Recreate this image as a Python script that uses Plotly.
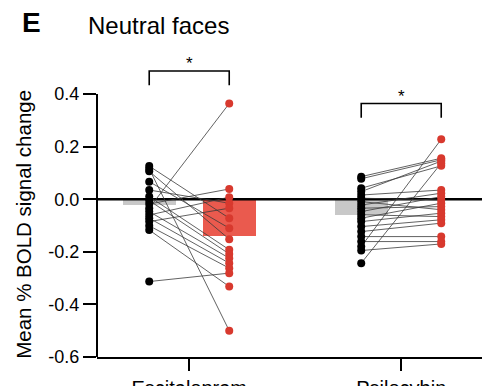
import plotly.graph_objects as go

# Treatment groups (category axis)
groups = ["Escitalopram", "Psilocybin"]

# Per-subject mean % BOLD signal change to neutral faces, baseline vs post-treatment
escit_pre = [0.126, 0.116, 0.106, 0.067, 0.035, 0.010, -0.005, -0.018,
             -0.034, -0.047, -0.060, -0.072, -0.085, -0.101, -0.117, -0.313]
escit_post = [-0.072, -0.500, -0.152, -0.110, -0.015, -0.192, -0.208, 0.039,
              0.364, -0.224, 0.008, -0.243, -0.034, -0.262, -0.332, -0.281]

psilo_pre = [0.086, 0.078, 0.042, 0.029, 0.016, 0.004, -0.009, -0.022, -0.034, -0.047,
             -0.059, -0.072, -0.085, -0.104, -0.123, -0.142, -0.161, -0.180, -0.195, -0.243]
psilo_post = [0.156, 0.150, 0.127, 0.145, 0.035, -0.003, -0.040, 0.023, -0.028, 0.010,
              -0.066, -0.015, -0.053, -0.078, -0.091, -0.142, -0.161, 0.228, -0.170, 0.137]

# Group means (baseline, post) shown as bars
mean_pre = [-0.022, -0.060]
mean_post = [-0.139, 0.005]

# Significance markers per group
sig_labels = ["*", "*"]
sig_bracket_top = [0.488, 0.364]

OFF = 0.1887      # horizontal offset of baseline/post columns from group centre
BAR_W = 0.25
GRAY = "#c8c8c8"
RED_BAR = "#ea5a4e"
RED_DOT = "#d8392e"
FONT = "Liberation Sans, Arial, sans-serif"

XMIN, XMAX = -0.435, 1.381
YMIN, YMAX = -0.6, 0.56

centres = list(range(len(groups)))
pre_sets = [escit_pre, psilo_pre]
post_sets = [escit_post, psilo_post]

fig = go.Figure()

# Mean bars
fig.add_trace(go.Bar(x=[c - OFF for c in centres], y=mean_pre, width=BAR_W,
                     marker=dict(color=GRAY, line=dict(width=0)), showlegend=False))
fig.add_trace(go.Bar(x=[c + OFF for c in centres], y=mean_post, width=BAR_W,
                     marker=dict(color=RED_BAR, line=dict(width=0)), showlegend=False))

# Zero reference line above the bars
fig.add_trace(go.Scatter(x=[XMIN, XMAX], y=[0, 0], mode="lines",
                         line=dict(color="black", width=2.5), hoverinfo="skip",
                         showlegend=False))

# Paired subject lines
lx, ly = [], []
for c, pre, post in zip(centres, pre_sets, post_sets):
    for a, b in zip(pre, post):
        lx += [c - OFF, c + OFF, None]
        ly += [a, b, None]
fig.add_trace(go.Scatter(x=lx, y=ly, mode="lines",
                         line=dict(color="#3a3a3a", width=0.8), hoverinfo="skip",
                         showlegend=False))

# Subject points
for c, pre, post in zip(centres, pre_sets, post_sets):
    fig.add_trace(go.Scatter(x=[c - OFF] * len(pre), y=pre, mode="markers",
                             marker=dict(color="black", size=8), showlegend=False))
    fig.add_trace(go.Scatter(x=[c + OFF] * len(post), y=post, mode="markers",
                             marker=dict(color=RED_DOT, size=8), showlegend=False))

shapes = []
annotations = []

# Significance brackets
for c, top, lab in zip(centres, sig_bracket_top, sig_labels):
    x0, x1 = c - OFF, c + OFF
    shapes.append(dict(type="path", xref="x", yref="y",
                       path=f"M {x0},{top - 0.054} L {x0},{top} L {x1},{top} L {x1},{top - 0.054}",
                       line=dict(color="black", width=1.6)))
    annotations.append(dict(x=c, y=top, xref="x", yref="y", text=lab, showarrow=False,
                            yanchor="bottom", yshift=-4,
                            font=dict(family=FONT, size=17, color="black")))

# Left axis line spanning the labelled range only
shapes.append(dict(type="line", xref="paper", yref="y", x0=0, x1=0, y0=-0.6, y1=0.4,
                   line=dict(color="black", width=2)))

# Panel letter, title and y-axis title
annotations += [
    dict(x=-0.2, y=1.098, xref="paper", yref="paper", text="<b>E</b>", showarrow=False,
         xanchor="left", yanchor="middle", font=dict(family=FONT, size=28, color="black")),
    dict(x=-0.028, y=1.086, xref="paper", yref="paper", text="Neutral faces", showarrow=False,
         xanchor="left", yanchor="middle", font=dict(family=FONT, size=24, color="black")),
    dict(x=-0.19, y=-0.094, xref="paper", yref="y",
         text="Mean % BOLD signal change", textangle=-90, showarrow=False,
         xanchor="center", yanchor="middle", font=dict(family=FONT, size=20.5, color="black")),
]

fig.update_layout(
    width=482, height=386,
    margin=dict(l=97, r=0, t=52, b=29, autoexpand=False),
    paper_bgcolor="white", plot_bgcolor="white",
    bargap=0, barmode="overlay",
    shapes=shapes, annotations=annotations,
    font=dict(family=FONT, color="black"),
    xaxis=dict(range=[XMIN, XMAX], tickmode="array", tickvals=centres, ticktext=groups,
               automargin=False,
               showgrid=False, zeroline=False, showline=True, linecolor="black", linewidth=2,
               ticks="outside", ticklen=12, tickwidth=2, tickcolor="black",
               tickfont=dict(family=FONT, size=20, color="black")),
    yaxis=dict(range=[YMIN, YMAX], tickmode="array",
               tickvals=[-0.6, -0.4, -0.2, 0.0, 0.2, 0.4],
               ticktext=["-0.6", "-0.4", "-0.2", "0.0", "0.2", "0.4"],
               automargin=False,
               showgrid=False, zeroline=False, showline=False,
               ticks="outside", ticklen=13, tickwidth=2, tickcolor="black",
               tickfont=dict(family=FONT, size=18, color="black")),
)

fig.write_html("out.html")
